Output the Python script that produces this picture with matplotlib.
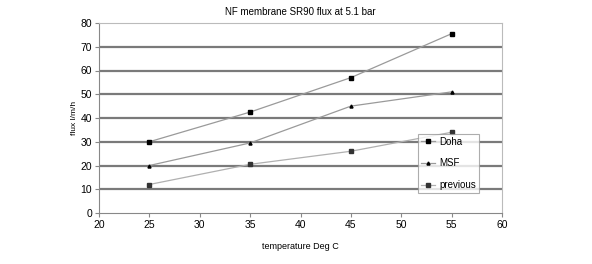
import matplotlib.pyplot as plt

plt.rcParams["font.family"] = ["Liberation Sans", "DejaVu Sans"]

temperature = [25, 35, 45, 55]
doha = [30, 42.5, 57, 75.5]
msf = [20, 29.5, 45, 51]
previous = [12, 20.5, 26, 34]

fig = plt.figure(figsize=(5.92, 2.64), dpi=100)
ax = fig.add_axes([99 / 592, 1 - 213 / 264, 403 / 592, 190 / 264])

for y in range(10, 80, 10):
    ax.axhline(y, color="#7a7a7a", linewidth=1.6, zorder=1)

ax.plot(temperature, doha, color="#9a9a9a", linewidth=0.9, marker="s",
        markersize=2.2, markerfacecolor="black", markeredgecolor="black", label="Doha")
ax.plot(temperature, msf, color="#9a9a9a", linewidth=0.9, marker="^",
        markersize=2.2, markerfacecolor="black", markeredgecolor="black", label="MSF")
ax.plot(temperature, previous, color="#b0b0b0", linewidth=0.9, marker="s",
        markersize=2.2, markerfacecolor="#333333", markeredgecolor="#333333", label="previous")

ax.set_xlim(20, 60)
ax.set_ylim(0, 80)
ax.set_xticks(range(20, 61, 5))
ax.set_yticks(range(0, 81, 10))
ax.tick_params(labelsize=7.5, length=3, color="#888888", pad=2)
for side in ["top", "right"]:
    ax.spines[side].set_color("#bbbbbb")
for side in ["left", "bottom"]:
    ax.spines[side].set_color("#888888")

ax.set_title("NF membrane SR90 flux at 5.1 bar", fontsize=7, pad=6)
ax.set_xlabel("temperature Deg C", fontsize=6.5, labelpad=9)
ax.set_ylabel("flux l/m/h", fontsize=6, labelpad=2)

leg = ax.legend(loc="lower right", bbox_to_anchor=(0.955, 0.08), fontsize=7,
                frameon=True, fancybox=False, edgecolor="#999999",
                handlelength=1.5, handletextpad=0.4, labelspacing=1.2,
                borderpad=0.3)
leg.get_frame().set_linewidth(0.8)

fig.savefig("out.png", dpi=100)
